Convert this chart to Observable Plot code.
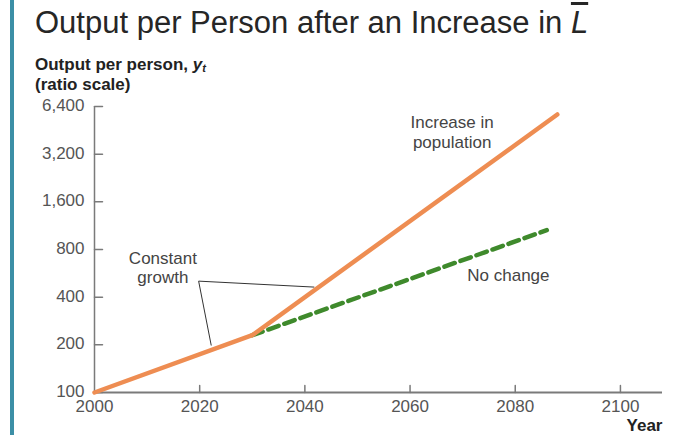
<!DOCTYPE html>
<html><head><meta charset="utf-8">
<script src="https://cdn.jsdelivr.net/npm/d3@7"></script>
<script src="https://cdn.jsdelivr.net/npm/@observablehq/plot@0.6"></script>
<style>
body{margin:0;background:#fff;font-family:"Liberation Sans",Arial,sans-serif;}
#wrap{position:relative;width:683px;height:435px;overflow:hidden;}
#bar{position:absolute;left:10px;top:0;width:4px;height:435px;background:#3c8fa6;}
#title{position:absolute;left:35px;top:6px;font-size:31px;line-height:34px;color:#262626;white-space:nowrap;}
.sub{position:absolute;left:35px;font-size:17px;font-weight:bold;color:#222;line-height:17px;white-space:nowrap;}
#chart{position:absolute;left:0;top:0;}
</style></head>
<body><div id="wrap"><div id="chart"></div><div id="bar"></div>
<div id="title">Output per Person after an Increase in <span style="text-decoration:overline;font-style:italic">L</span></div>
<div class="sub" style="top:56px">Output per person, <i>y<span style="font-size:11px;position:relative;top:2px">t</span></i></div>
<div class="sub" style="top:76px">(ratio scale)</div>
</div>
<script>
const xTicks = [2000, 2020, 2040, 2060, 2080, 2100];
const yTicks = [100, 200, 400, 800, 1600, 3200, 6400];
const increaseYears = [2000, 2030, 2088];
const increaseValues = [100, 230, 5700];
const noChangeYears = [2030, 2086];
const noChangeValues = [230, 1060];
const leaderYears = [[2019.8, 2022.2], [2019.8, 2041.8]];
const leaderValues = [[505, 198], [505, 463]];
const labelTexts = ["Increase in\npopulation", "Constant\ngrowth", "No change"];
const labelYears = [2068, 2013, 2078.7];
const labelValues = [4440, 620, 551];

const increase = increaseYears.map((x, i) => ({x, y: increaseValues[i]}));
const noChange = noChangeYears.map((x, i) => ({x, y: noChangeValues[i]}));
const leaders = leaderYears.map((xs, i) => ({x1: xs[0], x2: xs[1], y1: leaderValues[i][0], y2: leaderValues[i][1]}));
const labels = labelTexts.map((t, i) => ({t, x: labelYears[i], y: labelValues[i]}));
const axisColor = "#7a7a7a";

const chart = Plot.plot({
  width: 683, height: 435,
  marginLeft: 94, marginRight: 21, marginTop: 106, marginBottom: 43,
  style: {fontFamily: "Liberation Sans, Arial, sans-serif", background: "transparent"},
  x: {domain: [2000, 2108], axis: null},
  y: {type: "log", domain: [100, 6400], axis: null},
  marks: [
    Plot.ruleX([2000], {y1: 100, y2: 6400, stroke: axisColor, strokeWidth: 1.5}),
    Plot.ruleY([100], {stroke: axisColor, strokeWidth: 2}),
    Plot.vector(yTicks, {x: 2000, y: d => d, length: 8, rotate: 90, anchor: "start", r: 0, stroke: axisColor, strokeWidth: 1.5}),
    Plot.vector(xTicks.slice(1), {x: d => d, y: 100, length: 7, rotate: 0, anchor: "start", r: 0, stroke: axisColor, strokeWidth: 1.5}),
    Plot.text(yTicks, {x: 2000, y: d => d, text: d => d3.format(",")(d), textAnchor: "end", dx: -10, dy: -1, fontSize: 17, fill: "#555"}),
    Plot.text(xTicks, {x: d => d, y: 100, text: d => String(d), dy: 14, fontSize: 17, fill: "#555"}),
    Plot.text(["Year"], {x: 2108, y: 100, text: d => d, textAnchor: "end", dy: 33, fontSize: 17, fontWeight: "bold", fill: "#222"}),
    Plot.link(leaders, {x1: "x1", y1: "y1", x2: "x2", y2: "y2", stroke: "#333", strokeWidth: 1}),
    Plot.line(noChange, {x: "x", y: "y", stroke: "#3f8a2c", strokeWidth: 4.5, strokeDasharray: "11,6"}),
    Plot.line(increase, {x: "x", y: "y", stroke: "#ee8d52", strokeWidth: 4.5}),
    Plot.text(labels, {x: "x", y: "y", text: "t", fontSize: 17, fill: "#444", lineHeight: 1.15})
  ]
});
document.getElementById("chart").appendChild(chart);
</script></body></html>
